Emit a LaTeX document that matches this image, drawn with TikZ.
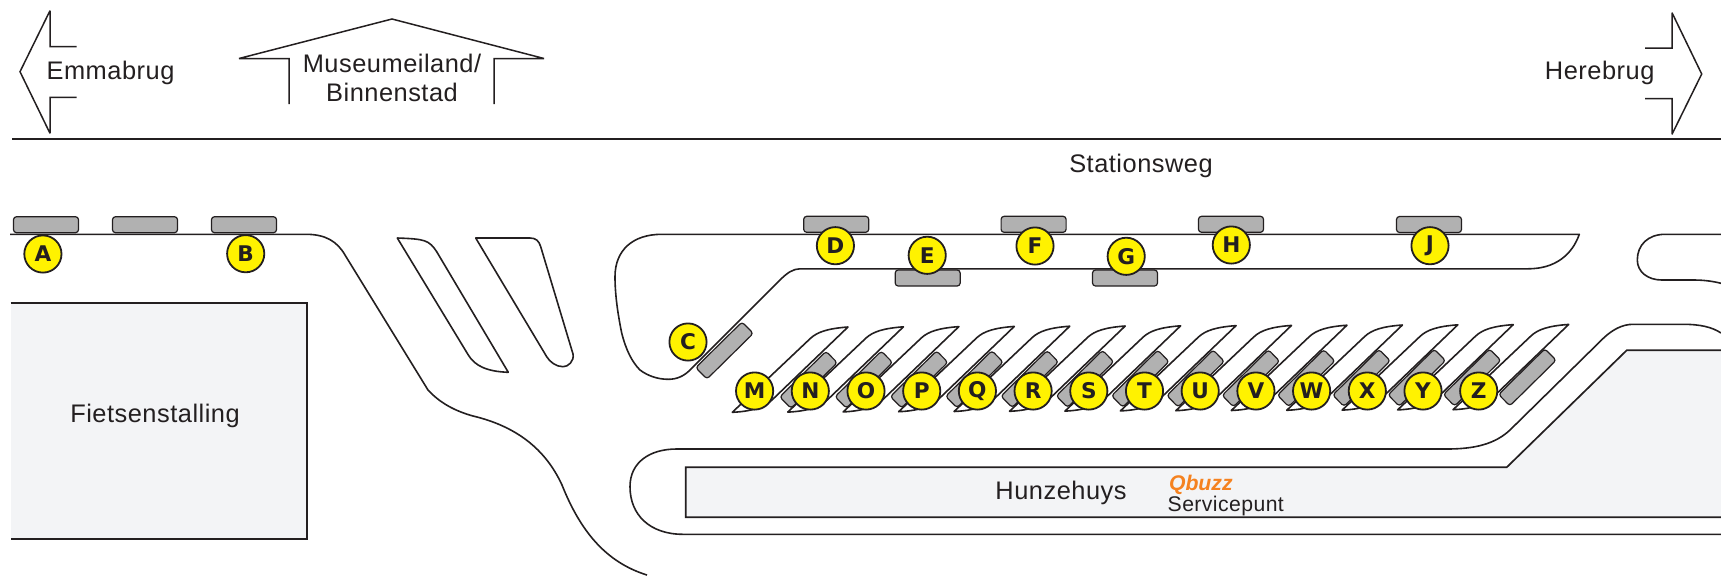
\documentclass[tikz,border=0pt]{standalone}
\usepackage{fontspec}
\setmainfont[LetterSpace=2.0]{Liberation Sans}
\newfontfamily\stopfont{DejaVu Sans}
\newfontfamily\brandfont{Liberation Sans}
\definecolor{ink}{HTML}{231F20}
\definecolor{stopgray}{HTML}{B1B1B1}
\definecolor{bldg}{HTML}{F3F4F6}
\definecolor{signyellow}{HTML}{FFF200}
\definecolor{qorange}{HTML}{F58220}
\tikzset{
  road/.style={draw=ink,line width=0.8pt,line join=round},
  arrowsign/.style={draw=ink,line width=0.75pt,line join=miter,miter limit=3},
  building/.style={draw=ink,line width=0.85pt},
  stopbox/.style={draw=ink,line width=0.6pt,fill=stopgray,rounded corners=1.5pt,minimum width=32.5pt,minimum height=8pt,inner sep=0pt,outer sep=0pt},
  letterdot/.style={circle,draw=ink,line width=0.9pt,fill=signyellow,minimum size=18.6pt,inner sep=0pt,text=ink,font=\stopfont\fontsize{10.8}{12}\selectfont\bfseries},
  lbl/.style={text=ink,inner sep=0pt,font=\fontsize{12.7}{15}\selectfont}
}
\begin{document}
\begin{tikzpicture}[x=0.5pt,y=-0.5pt]
\useasboundingbox (0,0) rectangle (1721,575);
% direction arrows
\draw[arrowsign] (76.5,46.7) -- (50,46.7) -- (50,10.7) -- (20,71.7) -- (50,133.3) -- (50,97.3) -- (76.5,97.3);
\draw[arrowsign] (289,104) -- (289,58.5) -- (239,58.5) -- (392,19) -- (544,58.5) -- (494,58.5) -- (494,104);
\draw[arrowsign] (1645,48) -- (1672,48) -- (1672,12.7) -- (1701.7,74) -- (1672,134.3) -- (1672,98.7) -- (1645,98.7);
\draw[building] (12,139) -- (1721,139);
% buildings
\fill[bldg] (10.7,302.7) rectangle (306.7,538.7);
\draw[building] (10.7,302.7) -- (306.7,302.7) -- (306.7,538.7) -- (10.7,538.7);
\fill[bldg] (1721,350.3) -- (1626.7,350.3) -- (1506.7,467.3) -- (685.7,467.3) -- (685.7,517.3) -- (1721,517.3) -- cycle;
\draw[building] (1721,350.3) -- (1626.7,350.3) -- (1506.7,467.3) -- (685.7,467.3) -- (685.7,517.3) -- (1721,517.3);
% left kerb
\draw[road] (10,234.3) -- (306,234.3) .. controls (325,234.3) and (337,241) .. (345,255) -- (428,390)
  .. controls (440,403) and (455,411) .. (473,416) .. controls (515,426) and (545,448) .. (562,485)
  .. controls (580,530) and (605,562) .. (647,575);
% small islands
\draw[road] (397.3,238) .. controls (425,239) and (429,240) .. (436.7,251.7) -- (508.3,372.3)
  .. controls (487,371.5) and (475,366) .. (468.3,355) -- cycle;
\draw[road] (475.7,238) -- (530,238) .. controls (536,238) and (539,241) .. (540.7,246.7) -- (573,354)
  .. controls (574.5,361) and (568,367) .. (563,366.7) .. controls (556,366.7) and (550,362) .. (546.7,356.7) -- cycle;
% central island
\draw[road] (661.7,234.3) .. controls (633,234.3) and (615,250) .. (615,276.7)
  .. controls (615,295) and (618,315) .. (621.7,333) .. controls (626,350) and (632,362) .. (640,370)
  .. controls (648,376) and (658,379.3) .. (668.3,379.3) .. controls (677,379.3) and (684,376) .. (690,370)
  -- (780,280) .. controls (787,273) and (793,268.8) .. (800,268.8) -- (1528,268.8)
  .. controls (1555,268.8) and (1572,255) .. (1579.3,234.3) -- cycle;
% right island
\draw[road] (1721,234.3) -- (1665,234.3) .. controls (1648,234.3) and (1637.3,245) .. (1637.3,260)
  .. controls (1637.3,272) and (1648,280) .. (1661.7,280) -- (1693,280) .. controls (1703,280) and (1712,281) .. (1721,283.3);
% lower island
\draw[road] (1721,534.3) -- (683,534.3) .. controls (650,534.3) and (630,515) .. (630,486.7)
  .. controls (630,462) and (650,449) .. (676.7,449) -- (1446.7,449)
  .. controls (1475,449) and (1495,444) .. (1510,430) -- (1603.3,338.3)
  .. controls (1612,330) and (1622,324.3) .. (1633,324.3) -- (1683,324.3)
  .. controls (1700,324.3) and (1712,327) .. (1721,333);
% bays
\foreach \i in {0,...,13}{
  \draw[road,shift={(55.44*\i,-0.2*\i)}] (732.3,412.3) -- (810.5,338.3)
    .. controls (817.6,331.8) and (828,328.5) .. (848,327) -- (772,400)
    .. controls (763,408) and (750,411.5) .. cycle;
}
% stops
\node[stopbox] (s1) at (46,224.7) {};
\node[stopbox] (s2) at (145,224.7) {};
\node[stopbox] (s3) at (244,224.7) {};
\node[stopbox] (sD) at (836.2,224.3) {};
\node[stopbox] (sE) at (927.7,278) {};
\node[stopbox] (sF) at (1033.6,224.3) {};
\node[stopbox] (sG) at (1125,278) {};
\node[stopbox] (sH) at (1231,224.3) {};
\node[stopbox] (sJ) at (1429,224.5) {};
\node[stopbox,rotate=44.6] (sC) at (724.5,350.5) {};
\foreach \i in {0,...,13}{
  \node[stopbox,rotate=44.6] (b\i) at ({808.5+55.3*\i},{379.8-0.19*\i}) {};
}
% letters
\node[letterdot] (A) at (42.9,254) {A};
\node[letterdot] (B) at (245.7,253.7) {B};
\node[letterdot] (C) at (688,342) {C};
\node[letterdot] (D) at (835.4,245.7) {D};
\node[letterdot] (E) at (927.2,255.3) {E};
\node[letterdot] (F) at (1035,246) {F};
\node[letterdot] (G) at (1126.2,256.3) {G};
\node[letterdot] (H) at (1231.3,245) {H};
\node[letterdot] (J) at (1430,245.7) {J};
\foreach \L [count=\n from 0] in {M,N,O,P,Q,R,S,T,U,V,W,X,Y,Z}{
  \node[letterdot] (\L) at ({754.6+55.7*\n},391) {\L};
}
% labels
\node[lbl] (emma) at (110.5,72.5) {Emmabrug};
\node[lbl] (mus) at (392,63.5) {Museumeiland/};
\node[lbl] (bin) at (392,92.5) {Binnenstad};
\node[lbl] (here) at (1599.7,72.5) {Herebrug};
\node[lbl] (stat) at (1141,165.5) {Stationsweg};
\node[lbl] (fiets) at (155,415.5) {Fietsenstalling};
\node[lbl] (hunze) at (1061,492.5) {Hunzehuys};
\node[inner sep=0pt,text=qorange,font=\brandfont\fontsize{10.6}{12}\selectfont\bfseries\itshape] (q) at (1200.8,485) {Qbuzz};
\node[lbl,font=\fontsize{10.6}{12}\selectfont] (serv) at (1225.8,506.5) {Servicepunt};
\end{tikzpicture}
\end{document}
